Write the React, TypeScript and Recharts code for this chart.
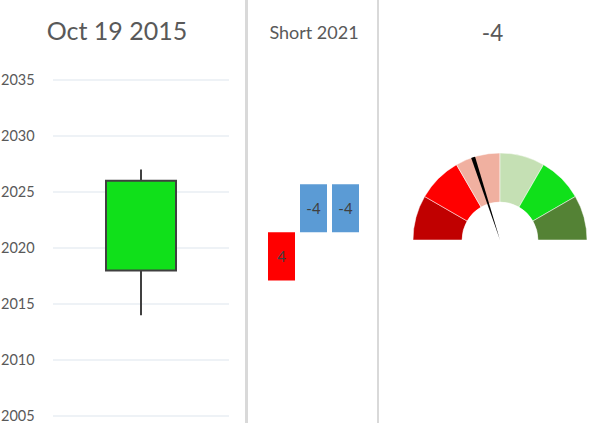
import React from 'react';
import {
  ComposedChart, BarChart, Bar, XAxis, YAxis, CartesianGrid, Cell,
  LabelList, PieChart, Pie,
} from 'recharts';

// left panel: one candle
const candleDay = ['Oct 19 2015'];
const candleOpen = [2018];
const candleClose = [2026];
const candleHigh = [2027];
const candleLow = [2014];
const yearTicks = [2005, 2010, 2015, 2020, 2025, 2030, 2035];

// middle panel: floating boxes
const shortNames = ['a', 'b', 'c'];
const shortFrom = [2017.1, 2021.4, 2021.4];
const shortTo = [2021.4, 2025.7, 2025.7];
const shortLabels = ['4', '-4', '-4'];
const shortColors = ['#FF0000', '#5B9BD5', '#5B9BD5'];

// right panel: gauge
const gaugeBands = [1, 1, 1, 1, 1, 1];
const gaugeColors = ['#C00000', '#FF0000', '#F0B0A0', '#C5E0B4', '#10E01A', '#548235'];
const gaugeMin = -20;
const gaugeMax = 20;
const gaugeValue = -4;
const needleWidth = 0.6;

const font = 'Lato, "Open Sans", sans-serif';
const grey = '#595959';

const candleData = candleDay.map((d, i) => ({
  name: d,
  body: [candleOpen[i], candleClose[i]],
  wick: [candleLow[i], candleHigh[i]],
}));

const shortData = shortNames.map((n, i) => ({
  name: n,
  range: [shortFrom[i], shortTo[i]],
  label: shortLabels[i],
}));

const bandData = gaugeBands.map((v, i) => ({ name: 'band' + i, value: v }));
const needleData = [
  { name: 'before', value: gaugeValue - gaugeMin - needleWidth / 2 },
  { name: 'needle', value: needleWidth },
  { name: 'after', value: gaugeMax - gaugeValue - needleWidth / 2 },
];

const YearTick = (props: any) => {
  const { y, payload } = props;
  return (
    <text x={1} y={y + 5} fill={grey} fontSize={14.5} fontFamily={font}>
      {payload.value}
    </text>
  );
};

const sep: React.CSSProperties = { position: 'absolute', top: 0, height: 423, background: '#D9D9D9' };

export default function App() {
  return (
    <div style={{ position: 'absolute', left: 0, top: 0, width: 614, height: 423, background: '#fff', overflow: 'hidden' }}>
      <div style={{ position: 'absolute', left: 0, top: 0 }}>
        <ComposedChart width={246} height={423} data={candleData} margin={{ top: 80, right: 17, bottom: 7, left: 0 }}>
          <CartesianGrid vertical={false} stroke="#E9EEF3" strokeWidth={1.5} />
          <XAxis xAxisId="w" dataKey="name" hide />
          <XAxis xAxisId="b" dataKey="name" hide />
          <YAxis domain={[2005, 2035]} ticks={yearTicks} interval={0} width={53} axisLine={false} tickLine={false} tick={<YearTick />} />
          <Bar xAxisId="w" dataKey="wick" barSize={2} fill="#404040" isAnimationActive={false} />
          <Bar xAxisId="b" dataKey="body" barSize={70} fill="#10E01A" stroke="#404040" strokeWidth={2} isAnimationActive={false} />
        </ComposedChart>
      </div>

      <div style={{ position: 'absolute', left: 248, top: 0 }}>
        <BarChart width={130} height={423} data={shortData} barSize={27} margin={{ top: 80, right: 17, bottom: 7, left: 17 }}>
          <XAxis dataKey="name" hide />
          <YAxis domain={[2005, 2035]} hide />
          <Bar dataKey="range" isAnimationActive={false}>
            {shortData.map((d, i) => (
              <Cell key={d.name} fill={shortColors[i]} />
            ))}
            <LabelList dataKey="label" position="center" fill="#404040" fontSize={15} fontFamily={font} />
          </Bar>
        </BarChart>
      </div>

      <div style={{ position: 'absolute', left: 378, top: 0 }}>
        <PieChart width={236} height={423} margin={{ top: 0, right: 0, bottom: 0, left: 0 }}>
          <Pie data={bandData} dataKey="value" cx={122} cy={240} innerRadius={38} outerRadius={87}
            startAngle={180} endAngle={0} stroke="#fff" strokeWidth={0.5} isAnimationActive={false}>
            {bandData.map((d, i) => (
              <Cell key={d.name} fill={gaugeColors[i]} />
            ))}
          </Pie>
          <Pie data={needleData} dataKey="value" cx={122} cy={240} innerRadius={0} outerRadius={87}
            startAngle={180} endAngle={0} stroke="none" isAnimationActive={false}>
            {needleData.map((d) => (
              <Cell key={d.name} fill={d.name === 'needle' ? '#000' : 'none'} />
            ))}
          </Pie>
        </PieChart>
      </div>

      <div style={{ ...sep, left: 245, width: 3 }} />
      <div style={{ ...sep, left: 377, width: 2 }} />

      <svg width={614} height={423} style={{ position: 'absolute', left: 0, top: 0, pointerEvents: 'none' }}>
        <text x={117} y={40} textAnchor="middle" fill={grey} fontSize={25} fontFamily={font}>{candleDay[0]}</text>
        <text x={314} y={39} textAnchor="middle" fill={grey} fontSize={18} fontFamily={font}>Short 2021</text>
        <text x={492.5} y={40.5} textAnchor="middle" fill={grey} fontSize={22.5} fontFamily={font}>{gaugeValue}</text>
      </svg>
    </div>
  );
}
